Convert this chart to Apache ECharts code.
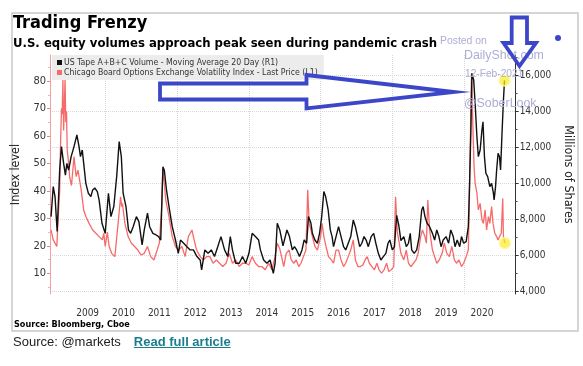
<!DOCTYPE html>
<html><head><meta charset="utf-8">
<script src="https://cdn.jsdelivr.net/npm/echarts@6/dist/echarts.min.js"></script>
<style>
html,body{margin:0;padding:0;background:#fff;}
#chart{position:absolute;left:0;top:0;width:583px;height:366px;}
#foot{position:absolute;left:13px;top:334px;font:13px "Liberation Sans",Arial,sans-serif;color:#222;white-space:nowrap;line-height:16px;}
#foot a{color:#1a7d8e;font-weight:bold;text-decoration:underline;margin-left:13px;}
</style></head><body>
<div id="chart"></div>
<div id="foot">Source: @markets<a href="#">Read full article</a></div>
<script>
// ---- data (decimal years) ----
const volName = 'US Tape A+B+C Volume - Moving Average 20 Day (R1)';
const vixName = 'Chicago Board Options Exchange Volatility Index - Last Price (L1)';

const volDates = [2008.48,2008.54,2008.59,2008.65,2008.72,2008.77,2008.83,2008.88,2008.92,2008.97,
2009.04,2009.12,2009.20,2009.26,2009.30,2009.35,2009.39,2009.45,2009.52,2009.59,2009.64,2009.70,2009.77,2009.82,2009.90,2009.99,
2010.08,2010.15,2010.23,2010.31,2010.38,2010.44,2010.49,2010.57,2010.64,2010.70,2010.77,2010.86,2010.93,
2011.02,2011.08,2011.17,2011.23,2011.32,2011.41,2011.48,2011.54,2011.60,2011.64,2011.70,2011.77,2011.86,2011.95,
2012.03,2012.09,2012.18,2012.27,2012.36,2012.45,2012.55,2012.64,2012.68,2012.77,2012.86,2012.95,
2013.04,2013.13,2013.22,2013.32,2013.41,2013.48,2013.54,2013.63,2013.73,2013.82,2013.91,
2014.00,2014.09,2014.18,2014.27,2014.32,2014.41,2014.50,2014.59,2014.68,2014.73,2014.79,2014.86,2014.95,
2015.06,2015.13,2015.21,2015.27,2015.33,2015.41,2015.48,2015.54,2015.61,2015.66,2015.73,2015.77,2015.84,2015.91,2015.97,
2016.03,2016.09,2016.14,2016.21,2016.27,2016.32,2016.36,2016.43,2016.50,2016.57,2016.64,2016.70,2016.77,2016.84,2016.91,2016.97,
2017.03,2017.09,2017.15,2017.21,2017.27,2017.33,2017.41,2017.48,2017.54,2017.61,2017.68,2017.75,2017.82,2017.88,2017.93,
2018.00,2018.06,2018.12,2018.18,2018.24,2018.32,2018.39,2018.45,2018.50,2018.54,2018.61,2018.68,2018.75,2018.82,2018.86,2018.91,2018.97,
2019.04,2019.12,2019.18,2019.24,2019.30,2019.36,2019.42,2019.50,2019.57,2019.63,2019.70,2019.75,2019.81,2019.88,2019.93,2019.99,
2020.06,2020.12,2020.15,2020.19,2020.22,2020.27,2020.31,2020.36,2020.40,2020.45,2020.50,2020.53,2020.57,2020.61,2020.66,2020.72,2020.77,2020.82,2020.84,2020.88,2020.91,2020.95,2020.99,
2021.02,2021.06,2021.10,2021.13];
const volValues = [8130,9800,9240,7300,10720,12020,11090,10440,11090,10720,
11460,12020,12670,12020,11460,11830,11090,9980,9430,9240,9610,9720,9520,9060,7760,7200,
9430,8130,8690,10350,12300,11460,9430,8690,7390,7200,7570,8130,7850,
6560,7390,8320,7570,7200,7110,7020,6830,10900,10700,9610,8690,7570,6830,
6090,6830,6650,6460,6280,6280,5910,5720,5170,6280,6090,6280,
5910,6460,7020,6280,5910,7020,6280,5540,5540,5910,5540,
6090,7200,7020,6830,6280,5720,5540,5720,4980,5540,7760,7390,6500,
7390,7020,6280,6460,6280,5910,6280,6830,6650,8130,7760,7200,6830,6650,7200,
8130,9520,9240,8500,7390,7020,6460,7020,7570,7020,6460,6280,6650,7020,7940,7570,
7020,6460,6650,7020,6830,6460,7020,7200,6650,6090,5720,5910,6090,6650,6830,
6280,6460,8200,7650,6800,7020,6460,6650,7200,6280,6090,6280,7020,8500,8690,8130,7760,
7570,7200,6830,7390,7020,6460,6830,7020,6650,7390,7020,6460,6830,6460,7020,6650,
6740,7570,9610,12760,16090,15720,14430,12570,11460,11830,12940,13400,11460,10540,10350,9800,9980,9430,9060,9800,10720,11650,11460,
10720,12760,14610,15700];

const vixDates = [2008.48,2008.54,2008.59,2008.64,2008.68,2008.72,2008.74,2008.77,2008.79,2008.81,2008.83,2008.85,2008.87,2008.89,2008.91,2008.93,2008.96,
2009.00,2009.05,2009.12,2009.18,2009.23,2009.32,2009.39,2009.45,2009.54,2009.64,2009.73,2009.82,2009.91,2009.95,2009.99,
2010.05,2010.10,2010.17,2010.26,2010.35,2010.42,2010.45,2010.47,2010.54,2010.63,2010.72,2010.81,2010.90,2010.99,
2011.08,2011.17,2011.26,2011.35,2011.44,2011.50,2011.56,2011.60,2011.64,2011.68,2011.77,2011.86,2011.95,
2012.04,2012.13,2012.22,2012.31,2012.41,2012.45,2012.54,2012.64,2012.73,2012.82,2012.91,
2013.00,2013.09,2013.18,2013.27,2013.36,2013.45,2013.54,2013.63,2013.73,2013.82,2013.91,
2014.00,2014.09,2014.18,2014.27,2014.36,2014.45,2014.55,2014.64,2014.73,2014.79,2014.86,2014.91,2014.97,
2015.04,2015.12,2015.18,2015.25,2015.32,2015.39,2015.45,2015.52,2015.59,2015.64,2015.68,2015.73,2015.77,2015.84,2015.91,
2016.00,2016.04,2016.09,2016.15,2016.22,2016.30,2016.36,2016.43,2016.50,2016.57,2016.64,2016.70,2016.77,2016.84,2016.91,2016.97,
2017.04,2017.11,2017.18,2017.24,2017.30,2017.36,2017.43,2017.50,2017.57,2017.63,2017.70,2017.77,2017.84,2017.90,2017.97,
2018.04,2018.09,2018.11,2018.14,2018.18,2018.24,2018.32,2018.39,2018.45,2018.52,2018.59,2018.66,2018.72,2018.79,2018.84,2018.91,2018.95,2018.99,
2019.04,2019.12,2019.18,2019.24,2019.31,2019.39,2019.45,2019.52,2019.59,2019.66,2019.73,2019.79,2019.86,2019.93,2019.99,
2020.06,2020.12,2020.15,2020.18,2020.21,2020.24,2020.28,2020.31,2020.36,2020.40,2020.45,2020.50,2020.54,2020.59,2020.63,2020.68,2020.72,2020.77,2020.81,2020.86,2020.91,2020.95,2020.99,
2021.04,2021.08,2021.10,2021.14];
const vixValues = [25.8,22.2,21.0,19.8,30.7,40,55,70,68,80.5,62,70,81,65,69,55,51.3,
45,42,52.5,45.2,47.6,40.4,33.1,30.7,28.2,25.8,24.6,23.4,22.2,24.6,19.8,
25,19.8,17.3,16.1,28.2,37.9,34.3,35.5,28.2,23.4,21.0,19.8,18.5,16.7,
17.3,19.8,16.1,14.9,18.5,21.0,33.1,47.6,42.8,36.7,30.7,23.4,19.8,
18.5,19.8,16.1,23.4,25.8,23.4,18.5,16.1,14.9,16.1,16.1,
13.7,14.9,13.7,12.5,13.7,17.3,13.7,14.9,12.5,13.7,13.7,
13.1,16.1,13.7,12.5,12.5,11.3,13.7,11.3,16.1,21.0,19,16.1,12.5,
17.3,18.5,14.9,13.7,14.9,12.5,13.7,16.1,18.5,40.4,28.2,25.8,23.4,19.8,18.5,
23.4,28.2,23.4,19.8,16.1,14.9,13.7,18.5,18.5,14.9,12.5,13.7,16.1,18.5,22.2,14.9,
12.5,12.5,13.1,14.9,16.1,13.7,12.5,11.3,13.7,11.3,10.1,11.3,13.7,10.7,11.3,
12.5,37.9,33,25,22,17.3,14.9,18.5,13.7,12.5,13.7,14.9,17.3,23.4,25.8,23.4,21.0,36.7,
25.8,18.5,16.1,13.7,14.9,17.3,21.0,17.3,16.1,19.8,14.9,13.7,14.9,12.5,13.7,
16.1,18.5,36.7,61.0,82.8,67.0,48.8,42.8,39.2,33.1,35.5,29.5,28.2,33.1,25.8,30.7,28.2,34.3,28.2,24.6,23.4,22.2,23.4,
24.6,37.3,23.4,21.0];

const yearLabelPos = [2009.5,2010.5,2011.5,2012.5,2013.5,2014.5,2015.5,2016.5,2017.5,2018.5,2019.5,2020.5];
const gridYears = [2010,2012,2014,2016,2018,2020];
const leftTicks = [10,20,30,40,50,60,70,80];
const rightTicks = [4000,6000,8000,10000,12000,14000,16000];

// ---- build ----
const volData = volDates.map((d,i)=>[d, volValues[i]]);
const vixData = vixDates.map((d,i)=>[d, vixValues[i]]);
const FONT = 'DejaVu Sans Condensed, DejaVu Sans, sans-serif';
const WM = 'Liberation Sans, Arial, sans-serif';
const WMC = '#adadd6';
const BLUE = '#3c46c8';
const yellowMark = {
  symbol:'circle', symbolSize:11, silent:true, label:{show:false}, animation:false,
  itemStyle:{color:'rgba(250,236,40,0.72)', borderColor:'rgba(255,248,160,0.95)', borderWidth:1.5}
};

const chart = echarts.init(document.getElementById('chart'), null, {renderer:'canvas'});
chart.setOption({
  animation:false,
  backgroundColor:'#fff',
  textStyle:{fontFamily:FONT},
  title:[
    {text:'Trading Frenzy', left:13, top:14, padding:0, textStyle:{fontFamily:FONT, fontSize:18, fontWeight:'bold', color:'#000'}},
    {text:'U.S. equity volumes approach peak seen during pandemic crash', left:13, top:37, padding:0, textStyle:{fontFamily:FONT, fontSize:13, fontWeight:'bold', color:'#000'}},
    {text:'Source: Bloomberg, Cboe', left:14, top:320, padding:0, textStyle:{fontFamily:FONT, fontSize:9, fontWeight:'bold', color:'#000'}}
  ],
  legend:{
    orient:'vertical', left:52, top:55, padding:[3,6,3,5], itemGap:1, itemWidth:5, itemHeight:5, icon:'rect',
    backgroundColor:'#ececec', selectedMode:false,
    textStyle:{fontFamily:FONT, fontSize:8.7, color:'#333', padding:[0,0,0,-3], lineHeight:9},
    data:[{name:volName},{name:vixName}]
  },
  grid:{left:50, right:57, top:55, bottom:72},
  xAxis:{
    type:'value', min:2008.45, max:2021.44,
    axisLine:{show:false},
    axisTick:{show:false, customValues:gridYears},
    splitLine:{show:true, lineStyle:{color:'#d8d8d8', type:'dotted', width:1}},
    axisLabel:{customValues:yearLabelPos, formatter:v=>String(Math.floor(v)), fontSize:10, color:'#333', margin:14}
  },
  yAxis:[
    {type:'value', position:'left', min:2.5, max:89.5, splitNumber:9,
     axisLine:{show:true, lineStyle:{color:'#f4a0a0'}},
     axisTick:{show:true, length:3, customValues:leftTicks, lineStyle:{color:'#f08080'}},
     minorTick:{show:true, splitNumber:2, length:2, lineStyle:{color:'#f6b0b0'}},
     axisLabel:{customValues:leftTicks, fontSize:11, color:'#333', margin:4},
     splitLine:{show:false},
     name:'Index level', nameLocation:'middle', nameGap:27, nameTextStyle:{fontSize:12.5, color:'#222', fontFamily:FONT}},
    {type:'value', position:'right', min:3830, max:17110, splitNumber:7,
     axisLine:{show:true, lineStyle:{color:'#333'}},
     axisTick:{show:true, length:3, customValues:rightTicks, lineStyle:{color:'#333'}},
     minorTick:{show:true, splitNumber:2, length:2, lineStyle:{color:'#555'}},
     axisLabel:{customValues:rightTicks, fontSize:10, color:'#333', margin:4},
     splitLine:{show:true, lineStyle:{color:'#d8d8d8', type:'dotted', width:1}},
     name:'Millions of Shares', nameLocation:'middle', nameGap:40, nameRotate:-90, nameTextStyle:{fontSize:12.5, color:'#222', fontFamily:FONT}}
  ],
  series:[
    {type:'line', name:vixName, yAxisIndex:0, data:vixData, showSymbol:false, symbol:'none', z:2,
     lineStyle:{color:'#f76a6a', width:1.3}, itemStyle:{color:'#f76a6a'},
     markPoint:Object.assign({data:[{coord:vixData[vixData.length-1]}]}, yellowMark)},
    {type:'line', name:volName, yAxisIndex:1, data:volData, showSymbol:false, symbol:'none', z:3,
     lineStyle:{color:'#111', width:1.4}, itemStyle:{color:'#111'},
     markPoint:Object.assign({data:[{coord:volData[volData.length-1]}]}, yellowMark)}
  ],
  graphic:[
    {type:'rect', z:-1, shape:{x:12, y:13, width:566, height:318}, style:{fill:'none', stroke:'#c8c8c8', lineWidth:1.5}},
    {type:'text', z:50, x:440, y:41, style:{text:'Posted on', font:'10.4px '+WM, fill:WMC, verticalAlign:'middle'}},
    {type:'text', z:50, x:464, y:56, style:{text:'DailyShot.com', font:'12.4px '+WM, fill:WMC, verticalAlign:'middle'}},
    {type:'text', z:50, x:465, y:74, style:{text:'12-Feb-2021', font:'10.2px '+WM, fill:WMC, verticalAlign:'middle'}},
    {type:'text', z:50, x:464, y:104, style:{text:'@SoberLook', font:'12.4px '+WM, fill:WMC, verticalAlign:'middle'}},
    {type:'polygon', z:60, shape:{points:[[160,83.5],[306.5,83.5],[306.5,75],[454,92],[306.5,108.5],[306.5,99.5],[160,99.5]]},
     style:{fill:'none', stroke:BLUE, lineWidth:3.8, lineJoin:'miter'}},
    {type:'polygon', z:60, shape:{points:[[511.7,17.5],[527,17.5],[527,43],[536,43],[519.5,66],[503.5,43],[511.7,43]]},
     style:{fill:'none', stroke:BLUE, lineWidth:3.8, lineJoin:'miter'}},
    {type:'circle', z:60, shape:{cx:558, cy:38, r:3}, style:{fill:BLUE}}
  ]
});
</script>
</body></html>
